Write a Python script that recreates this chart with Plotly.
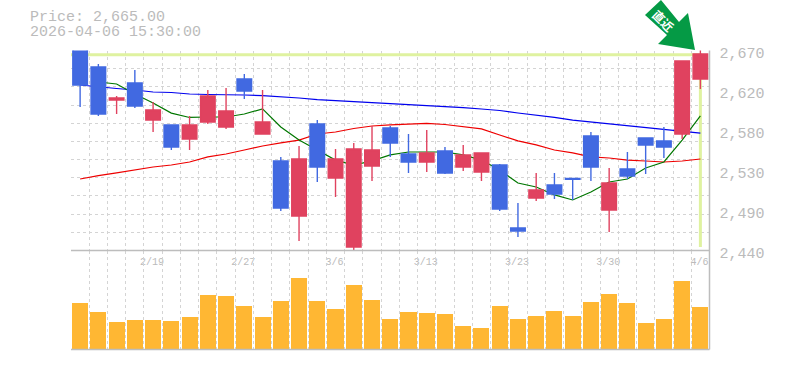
import plotly.graph_objects as go

dates = ["2/13","2/16","2/17","2/18","2/19","2/20","2/24","2/25","2/26","2/27",
         "3/2","3/3","3/4","3/5","3/6","3/9","3/10","3/11","3/12","3/13",
         "3/16","3/17","3/18","3/19","3/23","3/24","3/25","3/26","3/27","3/30",
         "3/31","4/1","4/2","4/3","4/6"]
opens = [2672,2651,2613,2632.6,2590,2584.4,2568.3,2587.8,2582,2637.3,
         2574,2542.9,2479.7,2585.5,2523.4,2444,2537.2,2580.9,2551,2541.8,
         2554.4,2536,2530.3,2538.3,2465.9,2500.4,2515.4,2523,2571.7,2486.6,
         2533.7,2569.4,2566,2574,2637.3]
closes = [2630.3,2597,2615.4,2606.2,2601.6,2559,2584.4,2617.7,2600.4,2623.5,
          2587.8,2488.9,2545.2,2536,2545.2,2556.7,2555.6,2563.7,2541.8,2552.2,
          2529.2,2549.9,2552.2,2487.8,2462.5,2509.6,2505,2522,2536,2517.6,
          2525.7,2561.4,2559,2657.9,2666]
highs = [2672,2654.5,2617.7,2647.6,2610.8,2584.4,2594.7,2624.6,2626.9,2643,
         2624.6,2547.6,2560.2,2590,2556.7,2563.7,2583.2,2583.2,2574,2578.6,
         2559,2561.4,2552.2,2539.5,2494.7,2529.2,2529.2,2523,2576.3,2534.9,
         2553.3,2569.4,2582,2657.9,2671]
lows = [2605,2594.7,2597,2603.9,2576.3,2555.6,2555.6,2585.5,2579.8,2614.2,
        2574,2485.5,2450.9,2518.8,2501.6,2439.4,2519.9,2547.6,2529.2,2530.3,
        2528,2531.4,2519.9,2485.5,2455.6,2497,2499.2,2498.1,2519.9,2461.3,
        2522.2,2528,2546.4,2568.3,2625.8]
volumes = [46,37,27,29,29,28,32,54,53,43,32,48,71,48,40,64,49,30,
           37,36,35,23,21,43,30,33,38,33,47,55,46,26,30,68,42]
ma_short = [None,2633.8,2631.5,2620,2609.6,2598,2593,2593.5,2593.5,2597,2602.8,
            2582,2567,2555.6,2544,2538.3,2543,2549.9,2553.3,2553.3,2553.3,
            2549.9,2544,2532.6,2517.6,2513,2503.9,2498.1,2507.3,2518.8,2522.2,
            2534.9,2541.8,2567,2594.7]
ma_mid = [2522.2,2526.2,2529.2,2532.6,2536,2538.3,2541.8,2547.6,2551,2555.6,2560.2,
          2563.7,2567,2574,2576.3,2580.3,2583.2,2584.4,2585.5,2586.1,2584.9,
          2582,2579.8,2572.8,2566,2561.4,2555.6,2552.2,2547.6,2546.4,2544,
          2542.9,2541.8,2542.9,2545.2]
ma_long = [2630.3,2628,2626.3,2624.6,2622.3,2621.7,2620,2619.4,2619.4,2618.8,2618.2,
           2617.1,2615.4,2613.6,2612.5,2611.3,2609.6,2608.5,2607.3,2606.7,2605.6,
           2604.4,2602.7,2601,2598.1,2595.8,2593,2590,2587.8,2585.5,2583.2,
           2580.9,2578.6,2576.8,2575]
last_price = 2665
y_ticks = [2670,2624,2578,2532,2486,2440]
y_text = ["2,670","2,620","2,580","2,530","2,490","2,440"]

W, H = 785, 370
idx = list(range(len(dates)))
GRID = "#d4d4d4"; EDGE = "#bdbdbd"; TXT = "#bbbbbb"; MONO = "Liberation Mono"
RED = "#E0425F"; BLUE = "#4169E1"
px = lambda v: v / W
py = lambda v: 1 - v / H

fig = go.Figure()
fig.add_trace(go.Bar(x=idx, y=volumes, width=0.88, marker=dict(color="#FFB733", line_width=0),
                     xaxis="x2", yaxis="y2", hoverinfo="skip"))
fig.add_trace(go.Scatter(x=[-0.5, idx[-1], idx[-1]], y=[last_price, last_price, 2444], mode="lines",
                         line=dict(color="#DFF2A0", width=3), hoverinfo="skip"))
for vals, col in ((ma_long, "#0000EE"), (ma_mid, "#EE0000"), (ma_short, "#007700")):
    fig.add_trace(go.Scatter(x=idx, y=vals, mode="lines", line=dict(color=col, width=1.2), hoverinfo="skip"))
fig.add_trace(go.Candlestick(x=idx, open=opens, high=highs, low=lows, close=closes,
                             xaxis="x", yaxis="y3", whiskerwidth=0, hoverinfo="skip",
                             increasing=dict(line=dict(color=RED, width=1.4), fillcolor=RED),
                             decreasing=dict(line=dict(color=BLUE, width=1.4), fillcolor=BLUE)))

xbase = dict(range=[-0.5, len(dates) - 0.5], domain=[px(71), px(709.5)], showgrid=False, zeroline=False,
             minor=dict(tickvals=[i - 0.5 for i in range(len(dates) + 1)], showgrid=True,
                        gridcolor=GRID, griddash="3px,3px", gridwidth=1, ticks=""),
             rangeslider=dict(visible=False))
grid_vals = [2440 + (2670 - 2440) * i / 11 for i in range(12)]
fig.update_layout(
    width=W, height=H, margin=dict(l=0, r=0, t=0, b=0, autoexpand=False), autosize=False,
    paper_bgcolor="white", plot_bgcolor="white", showlegend=False, bargap=0,
    boxgap=0.2, boxgroupgap=0,
    xaxis=dict(**xbase, anchor="y", tickmode="array", tickvals=idx[4::5], ticktext=dates[4::5],
               ticks="", tickfont=dict(family=MONO, size=10, color=TXT), ticklabelstandoff=3, ticklabelshift=-1),
    xaxis2=dict(**xbase, anchor="y2", showticklabels=False, ticks=""),
    yaxis=dict(domain=[py(250.5), py(50.5)], range=[2440, 2670], side="right", anchor="x",
               tickmode="array", tickvals=y_ticks, ticktext=y_text, ticks="", showgrid=False, zeroline=False,
               tickfont=dict(family=MONO, size=15, color=TXT), ticklabelshift=2, ticklabelstandoff=9,
               minor=dict(tickvals=grid_vals, showgrid=True, gridcolor=GRID, griddash="3px,3px", gridwidth=1, ticks="")),
    yaxis2=dict(domain=[py(349.5), py(250.5)], range=[-1.5, 97.5], anchor="x2", side="right",
                showticklabels=False, ticks="", showgrid=False, zeroline=False),
    yaxis3=dict(domain=[py(250.5), py(50.5)], range=[2440, 2670], overlaying="y", side="right", anchor="x",
                visible=False),
    shapes=[
        dict(type="line", xref="paper", yref="paper", x0=px(71), x1=px(709.5), y0=py(250.5), y1=py(250.5),
             line=dict(color=EDGE, width=1.5)),
        dict(type="line", xref="paper", yref="paper", x0=px(71), x1=px(709.5), y0=py(349.5), y1=py(349.5),
             line=dict(color=EDGE, width=1.5)),
        dict(type="line", xref="paper", yref="paper", x0=px(709.5), x1=px(709.5), y0=py(349.5), y1=py(50.5),
             line=dict(color=EDGE, width=1.5)),
        dict(type="path", xref="paper", yref="paper", fillcolor="#059A45", line_width=0,
             path="M %f,%f L %f,%f L %f,%f L %f,%f L %f,%f L %f,%f L %f,%f Z" % (
                 px(645), py(15), px(661), py(0), px(679), py(22), px(688), py(13),
                 px(695), py(50), px(658), py(44), px(667), py(35))),
    ],
    annotations=[
        dict(xref="paper", yref="paper", x=px(28), y=py(18), xanchor="left", yanchor="middle", showarrow=False,
             text="Price: 2,665.00", font=dict(family=MONO, size=15, color=TXT)),
        dict(xref="paper", yref="paper", x=px(28), y=py(33), xanchor="left", yanchor="middle", showarrow=False,
             text="2026-04-06 15:30:00", font=dict(family=MONO, size=15, color=TXT)),
        dict(xref="paper", yref="paper", x=px(664), y=py(20), xanchor="center", yanchor="middle", showarrow=False,
             text="<b>直近</b>", textangle=45, font=dict(family="Noto Sans CJK JP", size=12, color="white")),
    ],
)
fig.write_html("out.html", config=dict(displayModeBar=False), post_script="document.body.style.margin='0';")
